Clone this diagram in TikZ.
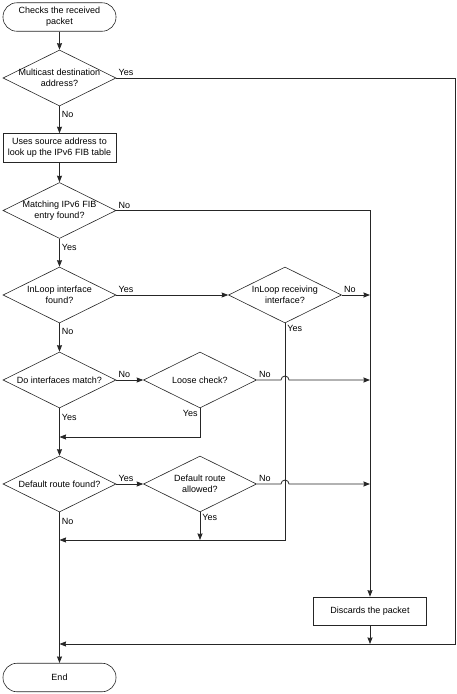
\documentclass[tikz,border=0pt]{standalone}
\usepackage{fontspec}
\setmainfont{Liberation Sans}
\usetikzlibrary{arrows.meta,shapes.geometric}

\begin{document}
\begin{tikzpicture}[x=1pt,y=-1pt,font=\fontsize{9}{11}\selectfont,
  term/.style={draw,rounded corners=14pt,minimum width=113pt,minimum height=28.5pt,align=center,line width=.6pt},
  box/.style={draw,minimum width=113pt,minimum height=29pt,align=center,line width=.6pt},
  decision/.style={draw,diamond,aspect=2,inner xsep=-14pt,inner ysep=0pt,minimum width=113pt,minimum height=56pt,align=center,line width=.6pt},
  arr/.style={-{Stealth[length=6.5pt,width=5pt,inset=.5pt]}},
  lbl/.style={inner sep=2pt}]
\useasboundingbox (0,0) rectangle (457,694);
\tikzset{every path/.append style={line width=.8pt,draw=black!85}}
% shapes
\node[term] (start) at (59.5,17) {Checks the received\\packet};
\node[decision] (mcast) at (59.5,78) {Multicast destination\\address?};
\node[box] (lookup) at (59.5,148) {Uses source address to\\look up the IPv6 FIB table};
\node[decision] (fib) at (59.5,210.5) {Matching IPv6 FIB\\entry found?};
\node[decision] (inloop) at (59.5,295) {InLoop interface\\found?};
\node[decision] (recv) at (285,295) {InLoop receiving\\interface?};
\node[decision] (match) at (59.5,380) {Do interfaces match?};
\node[decision] (loose) at (200,380) {Loose check?};
\node[decision] (dflt) at (59.5,484) {Default route found?};
\node[decision] (allow) at (200,484) {Default route\\allowed?};
\node[box,minimum height=28pt] (discard) at (370,611) {Discards the packet};
\node[term] (theend) at (59.5,677.5) {End};
\coordinate (br) at (455,644);
\coordinate (j1) at (59.5,437);
\coordinate (j2) at (59.5,540);
% connectors
\draw[arr] (start) -- (mcast);
\draw[arr] (mcast.east) node[lbl,above right]{Yes} -| (br) -- (br -| theend);
\draw[arr] (mcast) -- node[lbl,right,pos=.3]{No} (lookup);
\draw[arr] (lookup) -- (fib);
\draw[arr] (fib.east) node[lbl,above right]{No} -| (discard.north);
\draw[arr] (fib) -- node[lbl,right,pos=.3]{Yes} (inloop);
\draw[arr] (inloop.east) node[lbl,above right]{Yes} -- (recv.west);
\draw[arr] (recv.east) node[lbl,above right]{No} -- (recv.east -| discard.north);
\draw[arr] (recv.south) node[lbl,below right]{Yes} |- (j2);
\draw[arr] (inloop) -- node[lbl,right,pos=.3]{No} (match);
\draw[arr] (match.east) node[lbl,above right]{No} -- (loose.west);
\draw[arr] (loose.east) node[lbl,above right]{No} -- ([xshift=-4pt]loose.east -| recv.south)
  arc[start angle=180,end angle=0,radius=4pt] -- (loose.east -| discard.north);
\draw[arr] (loose.south) node[lbl,below left]{Yes} |- (j1);
\draw[arr] (match) -- node[lbl,right,pos=.2]{Yes} (dflt);
\draw[arr] (dflt.east) node[lbl,above right]{Yes} -- (allow.west);
\draw[arr] (allow.east) node[lbl,above right]{No} -- ([xshift=-4pt]allow.east -| recv.south)
  arc[start angle=180,end angle=0,radius=4pt] -- (allow.east -| discard.north);
\draw[arr] (allow.south) node[lbl,below right]{Yes} -- (allow.south |- j2);
\draw[arr] (dflt) -- node[lbl,right,pos=.06]{No} (theend);
\draw[arr] (discard) -- (discard.south |- br);
\end{tikzpicture}
\end{document}
